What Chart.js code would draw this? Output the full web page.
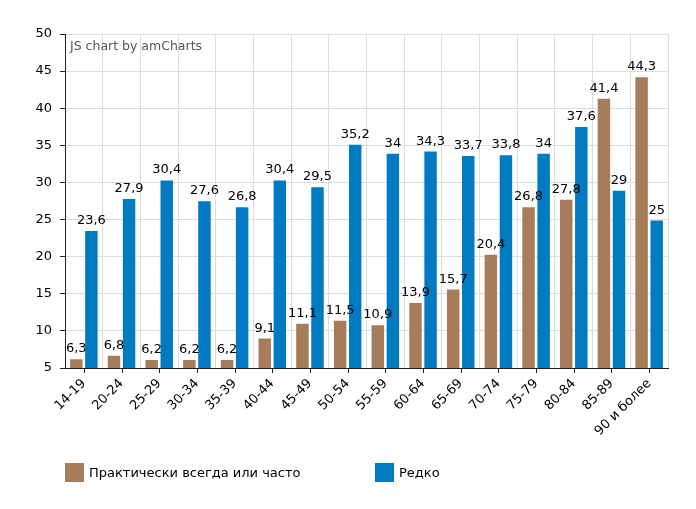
<!DOCTYPE html>
<html>
<head>
<meta charset="utf-8">
<script src="https://cdn.jsdelivr.net/npm/chart.js@4"></script>
<style>
  body { margin: 0; background: #fff; font-family: "DejaVu Sans", Verdana, sans-serif; }
  #wrap { position: relative; width: 696px; height: 509px; }
  .legend { position: absolute; top: 463px; font-size: 13px; color: #000; display: flex; align-items: center; }
  .legend span.box { display: inline-block; width: 19px; height: 19px; margin-right: 5px; }
</style>
</head>
<body>
<div id="wrap">
  <canvas id="chart" width="696" height="509"></canvas>
  <div class="legend" style="left:65px"><span class="box" style="background:#a67c5b"></span>Практически всегда или часто</div>
  <div class="legend" style="left:375px"><span class="box" style="background:#007bc2"></span>Редко</div>
</div>
<script>
// age groups
const categories = ['14-19', '20-24', '25-29', '30-34', '35-39', '40-44', '45-49', '50-54',
    '55-59', '60-64', '65-69', '70-74', '75-79', '80-84', '85-89', '90 и более'];
const oftenValues = [6.3, 6.8, 6.2, 6.2, 6.2, 9.1, 11.1, 11.5, 10.9, 13.9, 15.7, 20.4, 26.8, 27.8, 41.4, 44.3];
const rarelyValues = [23.6, 27.9, 30.4, 27.6, 26.8, 30.4, 29.5, 35.2, 34, 34.3, 33.7, 33.8, 34, 37.6, 29, 25];
const seriesNames = ['Практически всегда или часто', 'Редко'];
const yTicks = [5, 10, 15, 20, 25, 30, 35, 40, 45, 50];

const FONT = '"DejaVu Sans", Verdana, sans-serif';

// value labels above bars, comma as decimal separator
const valueLabels = {
    id: 'valueLabels',
    afterDatasetsDraw(chart) {
        const ctx = chart.ctx;
        ctx.save();
        ctx.font = '13px ' + FONT;
        ctx.fillStyle = '#000';
        ctx.textAlign = 'center';
        ctx.textBaseline = 'alphabetic';
        chart.data.datasets.forEach((ds, i) => {
            chart.getDatasetMeta(i).data.forEach((bar, j) => {
                ctx.fillText(String(ds.data[j]).replace('.', ','), bar.x, bar.y - 6);
            });
        });
        ctx.restore();
    }
};

// tick marks on the category centres + watermark
const extras = {
    id: 'extras',
    afterDraw(chart) {
        const ctx = chart.ctx;
        const xs = chart.scales.x;
        const area = chart.chartArea;
        ctx.save();
        ctx.strokeStyle = '#222';
        ctx.lineWidth = 1;
        ctx.beginPath();
        xs.ticks.forEach((t, i) => {
            const px = Math.round(xs.getPixelForTick(i)) + 0.5;
            ctx.moveTo(px, area.bottom);
            ctx.lineTo(px, area.bottom + 5);
        });
        ctx.stroke();
        ctx.font = '12.5px ' + FONT;
        ctx.fillStyle = '#555';
        ctx.textAlign = 'left';
        ctx.textBaseline = 'top';
        ctx.fillText('JS chart by amCharts', area.left + 5, area.top + 6);
        ctx.restore();
    }
};

new Chart(document.getElementById('chart').getContext('2d'), {
    type: 'bar',
    data: {
        labels: categories,
        datasets: [{
            label: seriesNames[0],
            data: oftenValues,
            backgroundColor: '#a67c5b',
            borderColor: 'rgba(255,255,255,0.25)',
            borderWidth: 1,
            categoryPercentage: 0.8,
            barPercentage: 0.96
        }, {
            label: seriesNames[1],
            data: rarelyValues,
            backgroundColor: '#007bc2',
            borderColor: 'rgba(255,255,255,0.25)',
            borderWidth: 1,
            categoryPercentage: 0.8,
            barPercentage: 0.96
        }]
    },
    options: {
        responsive: false,
        animation: false,
        layout: { padding: { top: 34, right: 28, left: 0, bottom: 0 } },
        plugins: {
            legend: { display: false },
            tooltip: { enabled: false }
        },
        scales: {
            x: {
                grid: { color: '#dcdcdc', offset: true, drawTicks: false },
                border: { color: '#222', width: 1 },
                ticks: {
                    color: '#000',
                    font: { family: FONT, size: 13 },
                    minRotation: 45,
                    maxRotation: 45,
                    padding: 8,
                    autoSkip: false
                },
                afterFit(scale) { scale.height = 141; }
            },
            y: {
                min: 5,
                max: 50,
                afterBuildTicks(scale) { scale.ticks = yTicks.map(v => ({ value: v })); },
                grid: { color: '#dcdcdc', tickLength: 5, tickColor: '#222' },
                border: { color: '#222', width: 1 },
                ticks: {
                    color: '#000',
                    font: { family: FONT, size: 13 },
                    padding: 8
                },
                afterFit(scale) { scale.width = 65; }
            }
        }
    },
    plugins: [valueLabels, extras]
});
</script>
</body>
</html>
